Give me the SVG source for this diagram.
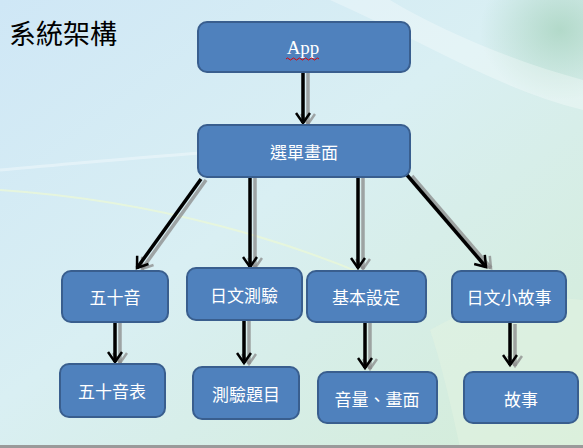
<svg xmlns="http://www.w3.org/2000/svg" width="583" height="448" viewBox="0 0 583 448">
<style>
.box{fill:#4f81bd;stroke:#395e8e;stroke-width:2}
.lbl{fill:#ffffff;font-family:"Noto Sans CJK TC","Noto Sans CJK SC",sans-serif;font-size:17px;text-anchor:middle;dominant-baseline:central}
.ln{stroke:#000;stroke-width:3.5;fill:none;marker-end:url(#ah)}
.sh{stroke:#8a8a8a;stroke-opacity:0.75;stroke-width:3.5;fill:none;marker-end:url(#ahs)}
</style>
<defs>
<linearGradient id="bg" x1="0" y1="0" x2="1" y2="1">
<stop offset="0" stop-color="#cfe7f6"/>
<stop offset="0.45" stop-color="#d9eff3"/>
<stop offset="1" stop-color="#d3ecd6"/>
</linearGradient>
<radialGradient id="blob" cx="0.5" cy="0.5" r="0.5">
<stop offset="0" stop-color="#a9d4c0" stop-opacity="0.8"/>
<stop offset="1" stop-color="#a9d4c0" stop-opacity="0"/>
</radialGradient>
<marker id="ah" markerUnits="userSpaceOnUse" markerWidth="16" markerHeight="16" viewBox="-1 -1 14 16" refX="11" refY="7" orient="auto">
<path d="M1,0 L11,7 L1,14" fill="none" stroke="#000" stroke-width="2.5"/>
</marker>
<marker id="ahs" markerUnits="userSpaceOnUse" markerWidth="16" markerHeight="16" viewBox="-1 -1 14 16" refX="11" refY="7" orient="auto">
<path d="M1,0 L11,7 L1,14" fill="none" stroke="#8a8a8a" stroke-opacity="0.75" stroke-width="2.5"/>
</marker>
</defs>
<rect x="0" y="0" width="583" height="448" fill="url(#bg)"/>
<ellipse cx="560" cy="30" rx="80" ry="70" fill="url(#blob)"/>
<path d="M330,0 C420,40 500,90 583,110 L583,80 C510,60 440,30 390,0 Z" fill="#ffffff" opacity="0.3"/>
<path d="M0,190 C150,200 300,240 420,300" fill="none" stroke="#eaf7d8" stroke-width="2" opacity="0.8"/>
<path d="M0,170 C120,160 250,145 330,150" fill="none" stroke="#ffffff" stroke-width="3" opacity="0.35"/>
<path d="M430,330 C480,300 540,295 583,300 L583,448 L460,448 C450,400 440,360 430,330 Z" fill="#e3f4e2" opacity="0.5"/>
<rect x="0" y="445" width="583" height="3" fill="#9a9a9a"/>

<text x="9" y="32" font-family="Noto Sans CJK TC,Noto Sans CJK SC,sans-serif" font-size="27" fill="#000" dominant-baseline="central">系統架構</text>

<g id="connectors">
<g transform="translate(5,1)">
<line class="sh" x1="303" y1="71" x2="303" y2="123"/>
<line class="sh" x1="201" y1="179" x2="137" y2="268"/>
<line class="sh" x1="250" y1="176" x2="250" y2="267"/>
<line class="sh" x1="358" y1="176" x2="358" y2="268"/>
<line class="sh" x1="407" y1="175" x2="486" y2="267"/>
<line class="sh" x1="115" y1="320" x2="115" y2="362"/>
<line class="sh" x1="244" y1="317" x2="244" y2="363"/>
<line class="sh" x1="365" y1="322" x2="365" y2="368"/>
<line class="sh" x1="510" y1="323" x2="510" y2="365"/>
</g>
<line class="ln" x1="303" y1="71" x2="303" y2="123"/>
<line class="ln" x1="201" y1="179" x2="137" y2="268"/>
<line class="ln" x1="250" y1="176" x2="250" y2="267"/>
<line class="ln" x1="358" y1="176" x2="358" y2="268"/>
<line class="ln" x1="407" y1="175" x2="486" y2="267"/>
<line class="ln" x1="115" y1="320" x2="115" y2="362"/>
<line class="ln" x1="244" y1="317" x2="244" y2="363"/>
<line class="ln" x1="365" y1="322" x2="365" y2="368"/>
<line class="ln" x1="510" y1="323" x2="510" y2="365"/>
</g>

<g id="app">
<rect class="box" x="198" y="22" width="212" height="50" rx="9"/>
<text x="303" y="47" fill="#fff" font-family="Liberation Serif,serif" font-size="19" text-anchor="middle" dominant-baseline="central">App</text>
<path d="M286,59 q1.5,-2 3,0 t3,0 t3,0 t3,0 t3,0 t3,0 t3,0 t3,0 t3,0 t3,0 t3,0" fill="none" stroke="#e00000" stroke-width="1"/>
</g>
<g id="menu">
<rect class="box" x="198" y="125" width="212" height="52" rx="9"/>
<text class="lbl" x="304" y="151">選單畫面</text>
</g>
<g id="gojuon">
<rect class="box" x="62" y="271" width="106" height="51" rx="9"/>
<text class="lbl" x="115" y="296">五十音</text>
</g>
<g id="quiz">
<rect class="box" x="187" y="268" width="115" height="52" rx="9"/>
<text class="lbl" x="244" y="294">日文測驗</text>
</g>
<g id="settings">
<rect class="box" x="307" y="271" width="119" height="51" rx="9"/>
<text class="lbl" x="366" y="296">基本設定</text>
</g>
<g id="stories">
<rect class="box" x="452" y="271" width="114" height="51" rx="9"/>
<text class="lbl" x="509" y="296">日文小故事</text>
</g>
<g id="gojuon-table">
<rect class="box" x="60" y="364" width="105" height="53" rx="9"/>
<text class="lbl" x="112" y="390" font-size="18">五十音表</text>
</g>
<g id="quiz-questions">
<rect class="box" x="193" y="367" width="106" height="52" rx="9"/>
<text class="lbl" x="246" y="393">測驗題目</text>
</g>
<g id="volume-screen">
<rect class="box" x="318" y="372" width="119" height="51" rx="9"/>
<text class="lbl" x="377" y="398">音量、畫面</text>
</g>
<g id="story">
<rect class="box" x="464" y="372" width="114" height="51" rx="9"/>
<text class="lbl" x="521" y="398">故事</text>
</g>
</svg>
